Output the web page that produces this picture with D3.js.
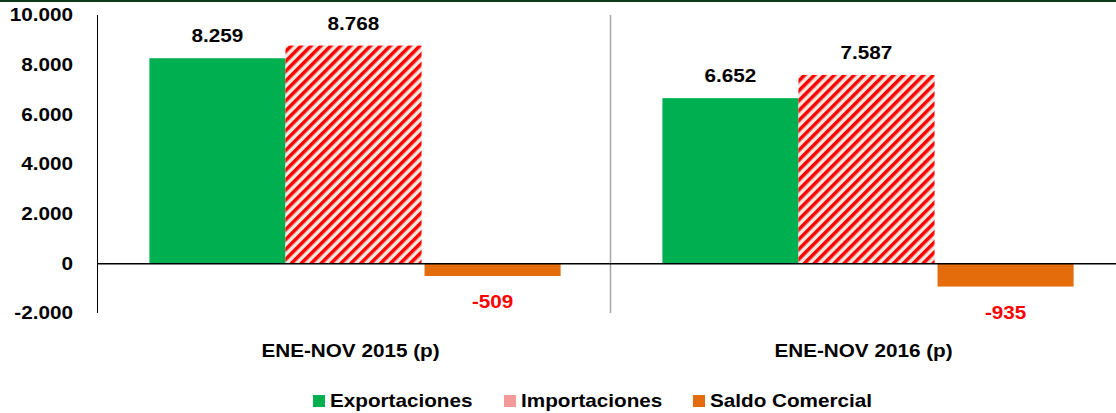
<!DOCTYPE html>
<html>
<head>
<meta charset="utf-8">
<script src="https://cdn.jsdelivr.net/npm/d3@7"></script>
<style>
  body { margin: 0; background: #fff; }
  text { font-family: Arial, "Liberation Sans", sans-serif; font-weight: bold; font-size: 18px; }
</style>
</head>
<body>
<div id="chart"></div>
<script>
// data
var periods = ["ENE-NOV 2015 (p)", "ENE-NOV 2016 (p)"];
var series = ["Exportaciones", "Importaciones", "Saldo Comercial"];
var exportaciones = [8259, 6652];
var importaciones = [8768, 7587];
var saldo = [-509, -935];
var yTicks = [-2000, 0, 2000, 4000, 6000, 8000, 10000];

var width = 1116, height = 413;
var margin = {left: 97, right: -7};
var sx = 1.15; // the original text looks a bit stretched sideways

var svg = d3.select("#chart").append("svg")
    .attr("width", width)
    .attr("height", height);

// hatch pattern for imports
var pat = svg.append("defs").append("pattern")
    .attr("id", "hatch")
    .attr("patternUnits", "userSpaceOnUse")
    .attr("width", 7).attr("height", 7)
    .attr("patternTransform", "rotate(45)");
pat.append("rect").attr("width", 7).attr("height", 7).attr("fill", "#eeeae0");
pat.append("rect").attr("width", 3.5).attr("height", 7).attr("fill", "#ff0000");

var colors = {"Exportaciones": "#00b050", "Importaciones": "url(#hatch)", "Saldo Comercial": "#e46c0a"};
var legendColors = {"Exportaciones": "#00b050", "Importaciones": "#f59a9a", "Saldo Comercial": "#e46c0a"};

// small helper: a text put at x,y and stretched a bit
function stretched(sel, x, y) {
  return sel.append("g")
      .attr("transform", function(d, i) { return "translate(" + x(d, i) + "," + y(d, i) + ") scale(" + sx + ",1)"; })
    .append("text");
}

// top border line
svg.append("rect").attr("x", 0).attr("y", 0).attr("width", width).attr("height", 2).attr("fill", "#0d3b1c");

var x0 = d3.scaleBand()
    .domain(periods)
    .range([margin.left, width - margin.right]);

var x1 = d3.scaleBand()
    .domain(series)
    .range([0, x0.bandwidth()])
    .paddingInner(0)
    .paddingOuter(0.385);

var y = d3.scaleLinear()
    .domain([-2000, 10000])
    .range([313, 15]);

var fmt = function(v) { return d3.format(",")(v).replace(/,/g, ".").replace("\u2212", "-"); };

// y axis line
svg.append("line")
    .attr("x1", margin.left + 0.5).attr("x2", margin.left + 0.5)
    .attr("y1", y(10000)).attr("y2", y(-2000))
    .attr("stroke", "#000");

stretched(svg.selectAll(".ytick").data(yTicks).enter(),
    function() { return 73; },
    function(d) { return y(d); })
    .attr("dy", "0.35em")
    .attr("text-anchor", "end")
    .text(function(d) { return fmt(d); });

// category divider
svg.append("line")
    .attr("x1", x0(periods[1]) + 0.5).attr("x2", x0(periods[1]) + 0.5)
    .attr("y1", y(10000)).attr("y2", y(-2000))
    .attr("stroke", "#a6a6a6").attr("stroke-width", 1.5);

var rows = periods.map(function(p, i) {
  return [
    {period: p, key: "Exportaciones", value: exportaciones[i]},
    {period: p, key: "Importaciones", value: importaciones[i]},
    {period: p, key: "Saldo Comercial", value: saldo[i]}
  ];
});

var groups = svg.selectAll(".grp")
  .data(rows)
  .enter()
  .append("g")
    .attr("transform", function(d, i) { return "translate(" + x0(periods[i]) + ",0)"; });

groups.selectAll("rect")
  .data(function(d) { return d; })
  .enter()
  .append("rect")
    .attr("x", function(d) { return x1(d.key) + (d.value < 0 ? 3 : 0); })
    .attr("width", x1.bandwidth())
    .attr("y", function(d) { return y(Math.max(0, d.value)); })
    .attr("height", function(d) { return Math.abs(y(d.value) - y(0)); })
    .attr("fill", function(d) { return colors[d.key]; });

stretched(groups.selectAll(".lbl").data(function(d) { return d; }).enter(),
    function(d) { return x1(d.key) + x1.bandwidth() / 2 + (d.value < 0 ? 3 : 0); },
    function(d) { return d.value >= 0 ? y(d.value) - 16 : y(d.value) + 32; })
    .attr("text-anchor", "middle")
    .attr("fill", function(d) { return d.value < 0 ? "#ff0000" : "#000"; })
    .text(function(d) { return fmt(d.value); });

// zero line
svg.append("line")
    .attr("x1", margin.left).attr("x2", width)
    .attr("y1", y(0) + 0.5).attr("y2", y(0) + 0.5)
    .attr("stroke", "#000").attr("stroke-width", 1.5);

// category labels
stretched(svg.selectAll(".cat").data(periods).enter(),
    function(d) { return x0(d) + x0.bandwidth() / 2 - 3; },
    function() { return 357; })
    .attr("text-anchor", "middle")
    .text(function(d) { return d; });

// legend
var legendX = [313, 504, 693];
var leg = svg.selectAll(".leg")
  .data(series)
  .enter()
  .append("g")
    .attr("transform", function(d, i) { return "translate(" + legendX[i] + ",395)"; });
leg.append("rect").attr("width", 12).attr("height", 12).attr("fill", function(d) { return legendColors[d]; });
leg.append("g")
    .attr("transform", "translate(17,12) scale(" + sx + ",1)")
  .append("text")
    .text(function(d) { return d; });
</script>
</body>
</html>
